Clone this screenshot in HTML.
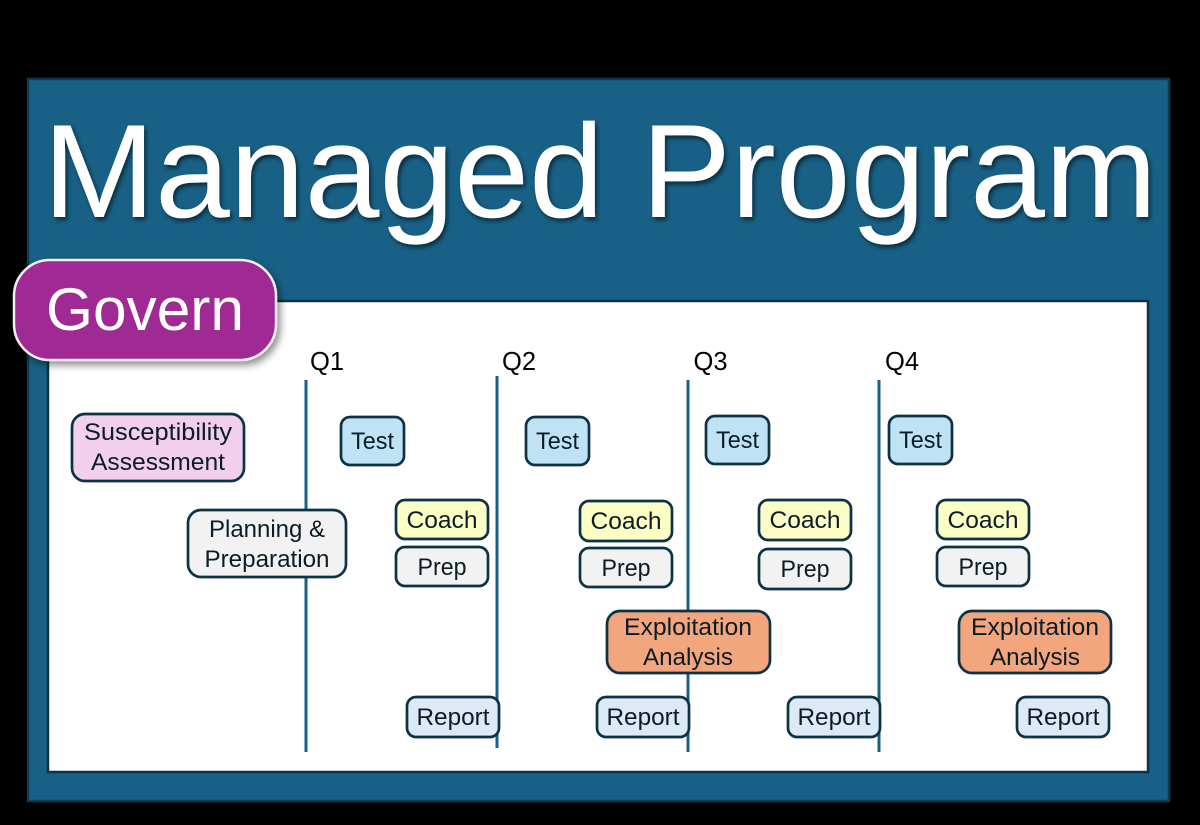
<!DOCTYPE html>
<html lang="en"><head><meta charset="utf-8"><title>Managed Program</title>
<style>
html,body{margin:0;padding:0;background:#000;width:1200px;height:825px;overflow:hidden}
svg{display:block}
text{font-family:"Liberation Sans",sans-serif;fill:#0b1c26;font-size:24px;text-anchor:middle}
.b{stroke:#0c3246;stroke-width:2.7}
.t{fill:#bfe3f4}.c{fill:#fdfdc6}.p{fill:#f2f2f2}.e{fill:#f3a57e}.r{fill:#dce9f6}
.l{stroke:#186085;stroke-width:3}
</style></head><body>
<svg width="1200" height="825" viewBox="0 0 1200 825" xmlns="http://www.w3.org/2000/svg">
<defs>
<filter id="s" x="-5%" y="-5%" width="110%" height="115%"><feDropShadow dx="2" dy="3" stdDeviation="2" flood-color="#000" flood-opacity=".55"/></filter>
<filter id="g" x="-10%" y="-10%" width="120%" height="125%"><feDropShadow dx="3" dy="4" stdDeviation="4" flood-color="#000" flood-opacity=".45"/></filter>
</defs>
<rect x="0" y="0" width="1200" height="825" fill="#000"/>
<rect x="28" y="79" width="1141" height="722" fill="#186085" stroke="#0f3a50" stroke-width="2.5"/>
<text x="600" y="217" style="font-size:133px;fill:#fff" textLength="1114" lengthAdjust="spacingAndGlyphs" filter="url(#s)">Managed Program</text>
<rect x="48" y="301" width="1100" height="471" fill="#fff" stroke="#0c3246" stroke-width="2.5"/>

<rect x="14" y="260" width="262" height="100" rx="36" fill="#a02b93" stroke="#f4eef3" stroke-width="2.5" filter="url(#g)"/>
<text x="145" y="330" style="font-size:60px;fill:#fff" textLength="198" lengthAdjust="spacingAndGlyphs">Govern</text>

<text x="327" y="370" style="font-size:25.5px;fill:#000">Q1</text>
<text x="519" y="370" style="font-size:25.5px;fill:#000">Q2</text>
<text x="710.500" y="370" style="font-size:25.5px;fill:#000">Q3</text>
<text x="902" y="370" style="font-size:25.5px;fill:#000">Q4</text>

<line class="l" x1="306" y1="380" x2="306" y2="752"/>
<line class="l" x1="497" y1="376" x2="497" y2="748"/>
<line class="l" x1="688" y1="380" x2="688" y2="752"/>
<line class="l" x1="879" y1="380" x2="879" y2="752"/>

<rect class="b" x="72" y="414" width="172" height="67" rx="13" fill="#f2ceef"/>
<text x="158" y="440" textLength="148" lengthAdjust="spacingAndGlyphs">Susceptibility</text>
<text x="158" y="470" textLength="134" lengthAdjust="spacingAndGlyphs">Assessment</text>

<rect class="b p" x="188" y="510" width="158" height="67" rx="13"/>
<text x="267" y="537" textLength="116" lengthAdjust="spacingAndGlyphs">Planning &amp;</text>
<text x="267" y="567" textLength="125" lengthAdjust="spacingAndGlyphs">Preparation</text>

<rect class="b t" x="341" y="417" width="63" height="48" rx="9"/>
<text x="372.500" y="449" textLength="43" lengthAdjust="spacingAndGlyphs">Test</text>
<rect class="b t" x="526" y="417" width="63" height="48" rx="9"/>
<text x="557.500" y="449" textLength="43" lengthAdjust="spacingAndGlyphs">Test</text>
<rect class="b t" x="706" y="416" width="63" height="48" rx="9"/>
<text x="737.500" y="448" textLength="43" lengthAdjust="spacingAndGlyphs">Test</text>
<rect class="b t" x="889" y="416" width="63" height="48" rx="9"/>
<text x="920.500" y="448" textLength="43" lengthAdjust="spacingAndGlyphs">Test</text>

<rect class="b c" x="396" y="500" width="92" height="39" rx="9"/>
<text x="442" y="528" textLength="71" lengthAdjust="spacingAndGlyphs">Coach</text>
<rect class="b c" x="580" y="501" width="92" height="40" rx="9"/>
<text x="626" y="529" textLength="71" lengthAdjust="spacingAndGlyphs">Coach</text>
<rect class="b c" x="759" y="500" width="92" height="40" rx="9"/>
<text x="805" y="528" textLength="71" lengthAdjust="spacingAndGlyphs">Coach</text>
<rect class="b c" x="937" y="500" width="92" height="39" rx="9"/>
<text x="983" y="528" textLength="71" lengthAdjust="spacingAndGlyphs">Coach</text>

<rect class="b p" x="396" y="547" width="92" height="39" rx="9"/>
<text x="442" y="575" textLength="49" lengthAdjust="spacingAndGlyphs">Prep</text>
<rect class="b p" x="580" y="548" width="92" height="39" rx="9"/>
<text x="626" y="576" textLength="49" lengthAdjust="spacingAndGlyphs">Prep</text>
<rect class="b p" x="759" y="549" width="92" height="40" rx="9"/>
<text x="805" y="577" textLength="49" lengthAdjust="spacingAndGlyphs">Prep</text>
<rect class="b p" x="937" y="547" width="92" height="39" rx="9"/>
<text x="983" y="575" textLength="49" lengthAdjust="spacingAndGlyphs">Prep</text>

<rect class="b e" x="607" y="611" width="163" height="62" rx="13"/>
<text x="688" y="635" textLength="128" lengthAdjust="spacingAndGlyphs">Exploitation</text>
<text x="688" y="665" textLength="90" lengthAdjust="spacingAndGlyphs">Analysis</text>
<rect class="b e" x="959" y="611" width="152" height="62" rx="13"/>
<text x="1035" y="635" textLength="128" lengthAdjust="spacingAndGlyphs">Exploitation</text>
<text x="1035" y="665" textLength="90" lengthAdjust="spacingAndGlyphs">Analysis</text>

<rect class="b r" x="407" y="697" width="92" height="40" rx="9"/>
<text x="453" y="725" textLength="73" lengthAdjust="spacingAndGlyphs">Report</text>
<rect class="b r" x="597" y="697" width="92" height="40" rx="9"/>
<text x="643" y="725" textLength="73" lengthAdjust="spacingAndGlyphs">Report</text>
<rect class="b r" x="788" y="697" width="92" height="40" rx="9"/>
<text x="834" y="725" textLength="73" lengthAdjust="spacingAndGlyphs">Report</text>
<rect class="b r" x="1017" y="697" width="92" height="40" rx="9"/>
<text x="1063" y="725" textLength="73" lengthAdjust="spacingAndGlyphs">Report</text>
</svg>
</body></html>
